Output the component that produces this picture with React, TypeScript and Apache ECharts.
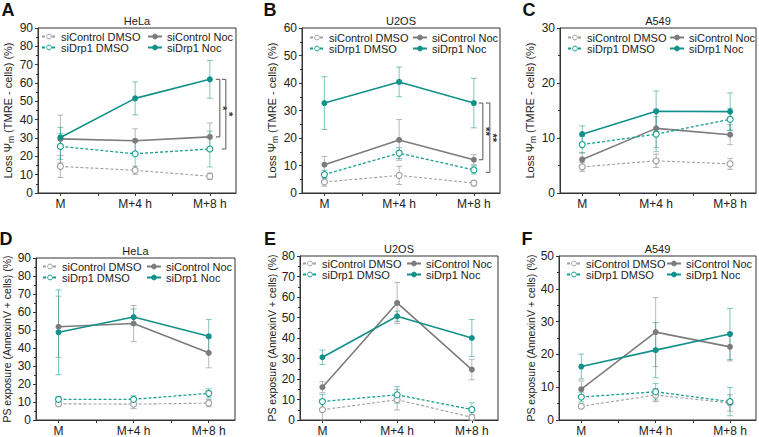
import React, { useEffect, useRef } from "react";
import * as echarts from "echarts";

// ---------- data ----------
const categories = ["M", "M+4 h", "M+8 h"];
const groupNames = ["siControl DMSO", "siControl Noc", "siDrp1 DMSO", "siDrp1 Noc"];

const panelLetters = ["A", "B", "C", "D", "E", "F"];
const panelTitles = ["HeLa", "U2OS", "A549", "HeLa", "U2OS", "A549"];
const panelYMax = [90, 60, 30, 90, 80, 50];
const tmreName = "{a|Loss Ψ}{s|m}{a| (TMRE - cells) (%)}";
const psName = "{a|PS exposure (AnnexinV + cells) (%)}";

// A – HeLa TMRE
const aCtrlDmso = [14.5, 12.4, 9.1];
const aCtrlDmsoErr = [6, 2.2, 1.8];
const aCtrlNoc = [29.5, 28.5, 30.6];
const aCtrlNocErr = [13, 6.5, 7.6];
const aDrpDmso = [25.4, 21.4, 24.0];
const aDrpDmsoErr = [7, 8, 9.8];
const aDrpNoc = [30.3, 51.6, 62.0];
const aDrpNocErr = [5.5, 9, 10.3];

// B – U2OS TMRE
const bCtrlDmso = [4.0, 6.4, 3.6];
const bCtrlDmsoErr = [1.5, 3.3, 1.0];
const bCtrlNoc = [10.3, 19.3, 12.1];
const bCtrlNocErr = [3.0, 7.4, 1.8];
const bDrpDmso = [6.7, 14.5, 8.4];
const bDrpDmsoErr = [1.5, 2.0, 1.5];
const bDrpNoc = [32.7, 40.4, 32.7];
const bDrpNocErr = [9.6, 5.4, 9.0];

// C – A549 TMRE
const cCtrlDmso = [4.75, 5.85, 5.3];
const cCtrlDmsoErr = [0.8, 1.2, 1.0];
const cCtrlNoc = [6.1, 11.75, 10.6];
const cCtrlNocErr = [1.2, 3.5, 1.8];
const cDrpDmso = [8.8, 10.7, 13.4];
const cDrpDmsoErr = [1.5, 3.2, 2.0];
const cDrpNoc = [10.7, 14.85, 14.8];
const cDrpNocErr = [1.5, 3.7, 3.4];

// D – HeLa PS
const dCtrlDmso = [9.0, 8.8, 9.4];
const dCtrlDmsoErr = [1.5, 2.5, 2.0];
const dCtrlNoc = [51.8, 53.6, 37.3];
const dCtrlNocErr = [17, 10, 8.3];
const dDrpDmso = [11.5, 11.5, 14.8];
const dDrpDmsoErr = [1.5, 2.0, 2.5];
const dDrpNoc = [48.7, 57.2, 46.5];
const dDrpNocErr = [23.5, 4.5, 9.3];

// E – U2OS PS
const eCtrlDmso = [5.0, 9.9, 1.3];
const eCtrlDmsoErr = [5.0, 5.0, 1.5];
const eCtrlNoc = [16.0, 57.1, 24.6];
const eCtrlNocErr = [2.7, 10, 5.0];
const eDrpDmso = [9.0, 12.3, 5.1];
const eDrpDmsoErr = [3.5, 4.0, 3.3];
const eDrpNoc = [30.6, 50.6, 40.0];
const eDrpNocErr = [3.5, 2.5, 9.0];

// F – A549 PS
const fCtrlDmso = [4.2, 7.6, 5.2];
const fCtrlDmsoErr = [0.6, 2.0, 2.5];
const fCtrlNoc = [9.4, 26.8, 22.3];
const fCtrlNocErr = [2.5, 10.5, 4.3];
const fDrpDmso = [7.0, 8.6, 5.6];
const fDrpDmsoErr = [1.5, 2.5, 4.3];
const fDrpNoc = [16.3, 21.3, 26.2];
const fDrpNocErr = [3.8, 8.4, 7.8];

// significance brackets (at M+8 h): [top, bottom]
const aBrackets = [[62.0, 30.6], [62.0, 24.0]];
const aBracketLabels = ["*", "*"];
const bBrackets = [[32.7, 12.1], [32.7, 7.5]];
const bBracketLabels = ["**", "**"];

const panelValues = [
  [aCtrlDmso, aCtrlNoc, aDrpDmso, aDrpNoc],
  [bCtrlDmso, bCtrlNoc, bDrpDmso, bDrpNoc],
  [cCtrlDmso, cCtrlNoc, cDrpDmso, cDrpNoc],
  [dCtrlDmso, dCtrlNoc, dDrpDmso, dDrpNoc],
  [eCtrlDmso, eCtrlNoc, eDrpDmso, eDrpNoc],
  [fCtrlDmso, fCtrlNoc, fDrpDmso, fDrpNoc],
];
const panelErrors = [
  [aCtrlDmsoErr, aCtrlNocErr, aDrpDmsoErr, aDrpNocErr],
  [bCtrlDmsoErr, bCtrlNocErr, bDrpDmsoErr, bDrpNocErr],
  [cCtrlDmsoErr, cCtrlNocErr, cDrpDmsoErr, cDrpNocErr],
  [dCtrlDmsoErr, dCtrlNocErr, dDrpDmsoErr, dDrpNocErr],
  [eCtrlDmsoErr, eCtrlNocErr, eDrpDmsoErr, eDrpNocErr],
  [fCtrlDmsoErr, fCtrlNocErr, fDrpDmsoErr, fDrpNocErr],
];

// ---------- layout / style ----------
const FONT = "'Liberation Sans', Arial, sans-serif";
const NARROW = "'Liberation Sans Narrow', 'Arial Narrow', 'Liberation Sans', sans-serif";
const boxes = [
  { left: 38, top: 28, width: 198, height: 165, nameGap: 18 },
  { left: 302, top: 28, width: 198, height: 165, nameGap: 13 },
  { left: 560, top: 28, width: 196, height: 165, nameGap: 17 },
  { left: 36, top: 258, width: 199, height: 166, nameGap: 22 },
  { left: 300, top: 256, width: 198, height: 166, nameGap: 21 },
  { left: 559, top: 256, width: 197, height: 166, nameGap: 21 },
];
const legendOffsets = [
  { c1: 3, c2: 109, top: 31 },
  { c1: 7, c2: 110, top: 32 },
  { c1: 7, c2: 109, top: 32 },
  { c1: 6, c2: 110, top: 261 },
  { c1: 2, c2: 106, top: 258 },
  { c1: 7, c2: 107, top: 258 },
];
const letterPos = [
  [8, 10], [270, 10], [529, 10], [6, 239], [270, 239], [527, 239],
];
const groupStyles = [
  { color: "#a0a0a0", dashed: true, empty: true, width: 1.1 },
  { color: "#7c7c7c", dashed: false, empty: false, width: 1.6 },
  { color: "#17a090", dashed: true, empty: true, width: 1.3 },
  { color: "#12918a", dashed: false, empty: false, width: 1.6 },
];
const errColors = ["rgba(150,150,150,0.7)", "rgba(140,140,140,0.6)", "rgba(23,160,144,0.55)", "rgba(23,150,140,0.55)"];

function buildOption() {
  const grid: any[] = [];
  const xAxis: any[] = [];
  const yAxis: any[] = [];
  const series: any[] = [];
  const legend: any[] = [];
  const graphic: any[] = [];

  boxes.forEach((b, i) => {
    grid.push({
      left: b.left, top: b.top, width: b.width, height: b.height,
      show: true, borderColor: "#333", borderWidth: 1, backgroundColor: "transparent",
      containLabel: false,
    });
    xAxis.push({
      gridIndex: i, type: "value", min: -0.3, max: 2.35,
      axisLine: { show: true, onZero: false, lineStyle: { color: "#333", width: 1 } },
      axisTick: { show: true, customValues: [0, 0.5, 1, 1.5, 2], length: 3, lineStyle: { color: "#333" } },
      axisLabel: {
        customValues: [0, 1, 2], fontSize: 12, color: "#222", fontFamily: FONT, margin: 5,
        formatter: (v: number) => categories[Math.round(v)],
      },
      splitLine: { show: false },
    });
    yAxis.push({
      gridIndex: i, type: "value", min: 0, max: panelYMax[i], interval: 10,
      axisLine: { show: true, onZero: false, lineStyle: { color: "#333", width: 1 } },
      axisTick: { show: true, length: 3, lineStyle: { color: "#333" } },
      minorTick: { show: true, splitNumber: 2, length: 2, lineStyle: { color: "#333" } },
      axisLabel: { fontSize: 12, color: "#222", fontFamily: FONT, margin: 5 },
      splitLine: { show: false },
      name: i < 3 ? tmreName : psName,
      nameLocation: "middle",
      nameGap: b.nameGap,
      nameTextStyle: {
        color: "#222",
        rich: {
          a: { fontSize: i < 3 ? 11 : 10.5, fontFamily: NARROW, color: "#222", lineHeight: 15 },
          s: { fontSize: 8.5, fontFamily: NARROW, color: "#222", lineHeight: 9, verticalAlign: "bottom" },
        },
      },
    });

    groupNames.forEach((g, k) => {
      const st = groupStyles[k];
      const vals = panelValues[i][k];
      const errs = panelErrors[i][k];
      series.push({
        type: "custom",
        name: "err " + g + " " + i,
        xAxisIndex: i, yAxisIndex: i, z: 1,
        encode: { x: 0, y: [1, 2] },
        data: vals.map((v, j) => [j, v - errs[j], v + errs[j]]),
        renderItem: (params: any, api: any) => {
          const x = api.value(0);
          const lo = api.coord([x, api.value(1)]);
          const hi = api.coord([x, api.value(2)]);
          const cap = 3;
          const style = { stroke: errColors[k], lineWidth: 1 };
          return {
            type: "group",
            children: [
              { type: "line", shape: { x1: lo[0], y1: lo[1], x2: hi[0], y2: hi[1] }, style },
              { type: "line", shape: { x1: lo[0] - cap, y1: lo[1], x2: lo[0] + cap, y2: lo[1] }, style },
              { type: "line", shape: { x1: hi[0] - cap, y1: hi[1], x2: hi[0] + cap, y2: hi[1] }, style },
            ],
          };
        },
      });
      series.push({
        type: "line",
        name: g,
        xAxisIndex: i, yAxisIndex: i, z: 3,
        data: vals.map((v, j) => [j, v]),
        symbol: "circle",
        symbolSize: 6,
        showAllSymbol: true,
        itemStyle: st.empty
          ? { color: "#fff", borderColor: st.color, borderWidth: 1.1 }
          : { color: st.color, borderColor: st.color, borderWidth: 0 },
        lineStyle: { color: st.color, width: st.width, type: st.dashed ? [3, 2] : "solid" },
      });
    });

    const lo = legendOffsets[i];
    const common = {
      orient: "vertical", itemGap: 0, itemWidth: 14, itemHeight: 6, padding: 0,
      selectedMode: false, textStyle: { fontSize: 11, fontFamily: FONT, color: "#222" },
      itemStyle: { borderWidth: 1 },
    };
    legend.push({ ...common, left: b.left + lo.c1, top: lo.top, data: [groupNames[0], groupNames[2]] });
    legend.push({ ...common, left: b.left + lo.c2, top: lo.top, data: [groupNames[1], groupNames[3]] });

    graphic.push({
      type: "text", x: b.left + b.width / 2, y: b.top - 7,
      style: { text: panelTitles[i], fontSize: 11, fontFamily: FONT, fill: "#222", align: "center", verticalAlign: "middle" },
    });
    graphic.push({
      type: "text", x: letterPos[i][0], y: letterPos[i][1],
      style: { text: panelLetters[i], fontSize: 18, fontWeight: "bold", fontFamily: FONT, fill: "#111", align: "center", verticalAlign: "middle" },
    });
  });

  const bracketSeries = (axisIndex: number, rows: number[][], labels: string[], offsets: number[]) => ({
    type: "custom",
    name: "sig " + axisIndex,
    xAxisIndex: axisIndex, yAxisIndex: axisIndex, z: 4,
    data: rows.map((r) => [2, r[0], r[1]]),
    encode: { x: 0, y: [1, 2] },
    renderItem: (params: any, api: any) => {
      const idx = params.dataIndex;
      const t = api.coord([2, api.value(1)]);
      const bt = api.coord([2, api.value(2)]);
      const xv = t[0] + offsets[idx];
      return {
        type: "group",
        children: [
          {
            type: "polyline",
            shape: { points: [[xv - 4, t[1]], [xv, t[1]], [xv, bt[1]], [xv - 4, bt[1]]] },
            style: { stroke: "#555", fill: null, lineWidth: 1 },
          },
          {
            type: "text", x: xv + 3.5, y: (t[1] + bt[1]) / 2, rotation: -Math.PI / 2,
            style: { text: labels[idx], fontSize: 11, fontWeight: "bold", fontFamily: FONT, fill: "#333", align: "center", verticalAlign: "middle" },
          },
        ],
      };
    },
  });
  series.push(bracketSeries(0, aBrackets, aBracketLabels, [10, 16]));
  series.push(bracketSeries(1, bBrackets, bBracketLabels, [9, 16]));

  return { animation: false, backgroundColor: "#fff", grid, xAxis, yAxis, series, legend, graphic };
}

export default function App() {
  const ref = useRef<HTMLDivElement>(null);
  useEffect(() => {
    if (!ref.current) return;
    const chart = echarts.init(ref.current, undefined, { renderer: "svg" });
    chart.setOption(buildOption() as any);
    return () => chart.dispose();
  }, []);
  return <div ref={ref} style={{ position: "fixed", left: 0, top: 0, width: 759, height: 437 }} />;
}
